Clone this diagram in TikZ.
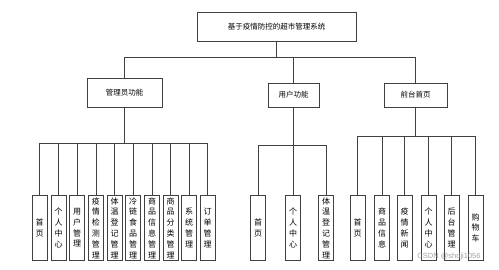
\documentclass[tikz,border=0pt]{standalone}
\usepackage{fontspec}
\newfontfamily\cjk{Noto Sans CJK SC}
\setmainfont{Liberation Sans}
\begin{document}
\begin{tikzpicture}[x=1pt,y=-1pt,
  line/.style={draw=black!75,line width=0.7pt},
  box/.style={line, fill=white, inner sep=0pt, font=\cjk\fontsize{7.5}{9}\selectfont},
  leaf/.style={line, fill=white, inner sep=0pt, minimum width=15pt, minimum height=65pt, anchor=north, align=center, font=\cjk\fontsize{8}{10.8}\selectfont},
  conn/.style={draw=black!75,line width=0.7pt}]
\useasboundingbox (0,0) rectangle (499,269);
\fill[white] (0,0) rectangle (499,269);
% level boxes
\node[box, minimum width=159pt, minimum height=29pt] (root) at (276.5,26.5) {基于疫情防控的超市管理系统};
\node[box, minimum width=75pt, minimum height=29pt] (admin) at (124.5,92.5) {管理员功能};
\node[box, minimum width=51pt, minimum height=24pt] (user) at (293.5,95) {用户功能};
\node[box, minimum width=63pt, minimum height=24pt] (front) at (415.5,95) {前台首页};
% bar coordinates
\coordinate (barR) at (276.5,57);
\coordinate (barA) at (124.5,143);
\coordinate (barU) at (293.5,145);
\coordinate (barF) at (415.5,136);
% admin leaves
\node[leaf] (a1) at (39.5,195) {首\\页};
\node[leaf] (a2) at (58.5,195) {个\\人\\中\\心};
\node[leaf] (a3) at (77,195) {用\\户\\管\\理};
\node[leaf] (a4) at (96,195) {疫\\情\\检\\测\\管\\理};
\node[leaf] (a5) at (114.5,195) {体\\温\\登\\记\\管\\理};
\node[leaf] (a6) at (133,195) {冷\\链\\食\\品\\管\\理};
\node[leaf] (a7) at (152,195) {商\\品\\信\\息\\管\\理};
\node[leaf] (a8) at (170.5,195) {商\\品\\分\\类\\管\\理};
\node[leaf] (a9) at (189,195) {系\\统\\管\\理};
\node[leaf] (a10) at (207.5,195) {订\\单\\管\\理};
% user leaves
\node[leaf] (u1) at (258,195) {首\\页};
\node[leaf] (u2) at (293,195) {个\\人\\中\\心};
\node[leaf] (u3) at (326,195) {体\\温\\登\\记\\管\\理};
% front leaves
\node[leaf] (f1) at (357.5,195) {首\\页};
\node[leaf] (f2) at (382,195) {商\\品\\信\\息};
\node[leaf] (f3) at (404.5,195) {疫\\情\\新\\闻};
\node[leaf] (f4) at (428.5,195) {个\\人\\中\\心};
\node[leaf] (f5) at (451.5,195) {后\\台\\管\\理};
\node[leaf] (f6) at (475.5,195) {购\\物\\车};
% connectors
\foreach \c in {admin,user,front}
  \draw[conn] (root.south) -- (barR) -| (\c.north);
\foreach \c in {a1,a2,a3,a4,a5,a6,a7,a8,a9,a10}
  \draw[conn] (admin.south) -- (barA) -| (\c.north);
\foreach \c in {u1,u2,u3}
  \draw[conn] (user.south) -- (barU) -| (\c.north);
\foreach \c in {f1,f2,f3,f4,f5,f6}
  \draw[conn] (front.south) -- (barF) -| (\c.north);
% watermark
\node[text=black!45, opacity=0.8, font=\fontsize{7.5}{9}\selectfont, inner sep=0pt] (wm) at (449,256.5) {CSDN @shdji1056};
\end{tikzpicture}
\end{document}
